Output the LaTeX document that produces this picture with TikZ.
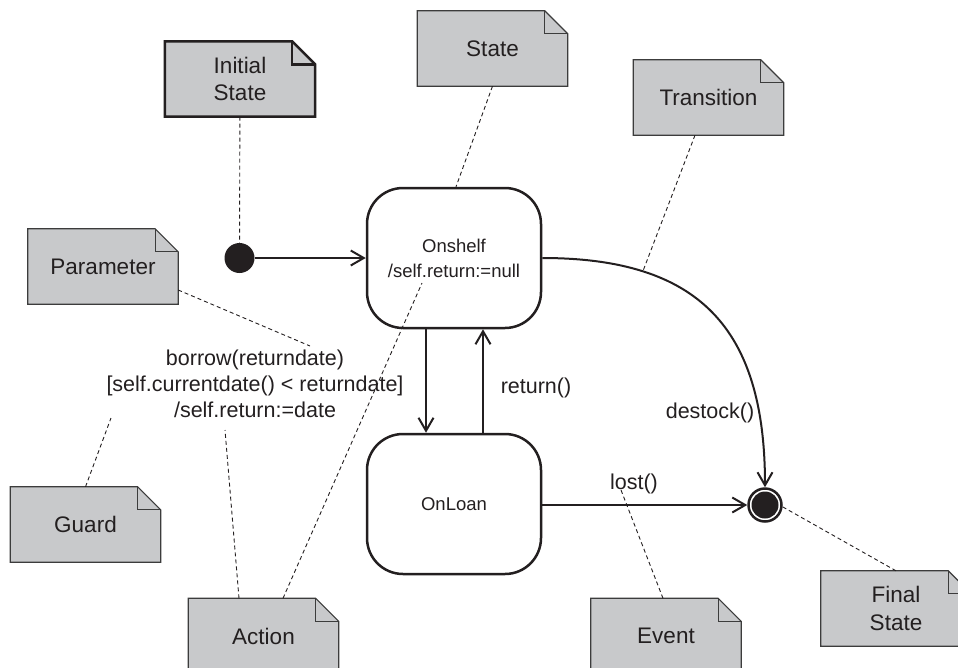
\documentclass[tikz,border=0pt]{standalone}
\usepackage{fontspec}
\setmainfont{Liberation Sans}
\usetikzlibrary{arrows.meta,calc,backgrounds}
\definecolor{notegray}{HTML}{C8C9CB}
\definecolor{ink}{HTML}{231F20}
\definecolor{noteline}{HTML}{3C3C3C}
\begin{document}
\begin{tikzpicture}[x=1pt,y=-1pt,
  notebox/.style={rectangle, minimum width=150pt, minimum height=75pt, inner sep=0pt, align=center, text=ink, font=\fontsize{22.5}{27.5}\selectfont},
  statebox/.style={rectangle, rounded corners=36pt, draw=ink, line width=2.5pt, minimum width=174pt, minimum height=140pt, align=center, text=ink, font=\fontsize{18.5}{25}\selectfont},
  lbl/.style={text=ink, align=center, font=\fontsize{21.5}{26}\selectfont, inner sep=0pt},
  trans/.style={draw=ink, line width=2pt, -{Straight Barb[length=13pt,width=15pt]}},
  anno/.style={draw=ink, line width=0.9pt, dash pattern=on 4pt off 3pt},
  notefill/.style={fill=notegray, draw=noteline, line width=1.2pt, line join=miter},
  notefold/.style={draw=noteline, line width=1.2pt},
  initfill/.style={fill=notegray, draw=ink, line width=2.5pt, line join=miter},
  initfold/.style={draw=ink, line width=2.5pt}
]
\useasboundingbox (0,0) rectangle (958,667);

% notes
\node[notebox] (ninit) at (240,79) {Initial\\State};
\node[notebox] (nstate) at (492.5,48.5) {State};
\node[notebox] (ntrans) at (708.5,97.5) {Transition};
\node[notebox] (nparam) at (103,266.5) {Parameter};
\node[notebox] (nguard) at (85.5,524.5) {Guard};
\node[notebox] (naction) at (263.5,636) {Action};
\node[notebox] (nevent) at (666,636) {Event};
\node[notebox] (nfinal) at (896,608.5) {Final\\State};

% states
\node[statebox] (onshelf) at (454,258) {Onshelf\\/self.return:=null};
\node[statebox] (onloan) at (454,504) {OnLoan};

% pseudo states
\node[circle, fill=ink, minimum size=30pt, inner sep=0pt] (init) at (239.5,258) {};
\node[circle, draw=ink, line width=2.5pt, minimum size=33pt, inner sep=0pt,
  path picture={\fill[ink] (path picture bounding box.center) circle (13.5pt);}] (final) at (765,505) {};

% labels
\node[lbl] (lreturn) at (536,388) {return()};
\node[lbl] (ldestock) at (710,413) {destock()};
\node[lbl] (llost) at (634,484) {lost()};
\node[lbl] (lborrow) at (255,384) {borrow(returndate)\\{[}self.currentdate() < returndate{]}\\/self.return:=date};

% anchor points of annotation lines
\coordinate (cparam) at (310,346);
\coordinate (cguard) at (111,418);
\coordinate (cact1) at (225,430);
\coordinate (cact2) at (422,283);
\coordinate (cevent) at (621,490);

% transitions
\draw[trans] (init) -- (onshelf.west |- init);
\draw[trans] ([xshift=-28pt]onshelf.south) -- ([xshift=-28pt]onloan.north);
\draw[trans] ([xshift=29pt]onloan.north) -- ([xshift=29pt]onshelf.south);
\draw[trans] (onshelf.east) .. controls +(156,0) and +(0,-160) .. (final.north) coordinate[pos=0.25] (ctrans);
\draw[trans] (onloan.east |- final) -- (final.west);

% annotation lines
\draw[anno] (ninit) -- (init);
\draw[anno] (nstate.south) -- ([xshift=2pt]onshelf.north);
\draw[anno] ([xshift=-13.5pt]ntrans.south) -- (ctrans);
\draw[anno] ([yshift=-23.5pt]nparam.east) -- (cparam);
\draw[anno] (nguard.north) -- (cguard);
\draw[anno] ([xshift=-24.5pt]naction.north) -- (cact1);
\draw[anno] ([xshift=19.5pt]naction.north) -- (cact2);
\draw[anno] ([xshift=-3pt]nevent.north) -- (cevent);
\draw[anno] (nfinal.north) -- (final.-6);

% note outlines
\begin{scope}[on background layer]
\foreach \n in {nstate,ntrans,nparam,nguard,naction,nevent,nfinal}{
  \path[notefill] (\n.north west) -- ([xshift=-23pt]\n.north east) -- ([yshift=-23pt]\n.north east) -- (\n.south east) -- (\n.south west) -- cycle;
  \path[notefold] ([xshift=-23pt]\n.north east) |- ([yshift=-23pt]\n.north east);
}
\path[initfill] (ninit.north west) -- ([xshift=-23pt]ninit.north east) -- ([yshift=-23pt]ninit.north east) -- (ninit.south east) -- (ninit.south west) -- cycle;
\path[initfold] ([xshift=-23pt]ninit.north east) |- ([yshift=-23pt]ninit.north east);
\end{scope}
\end{tikzpicture}
\end{document}
